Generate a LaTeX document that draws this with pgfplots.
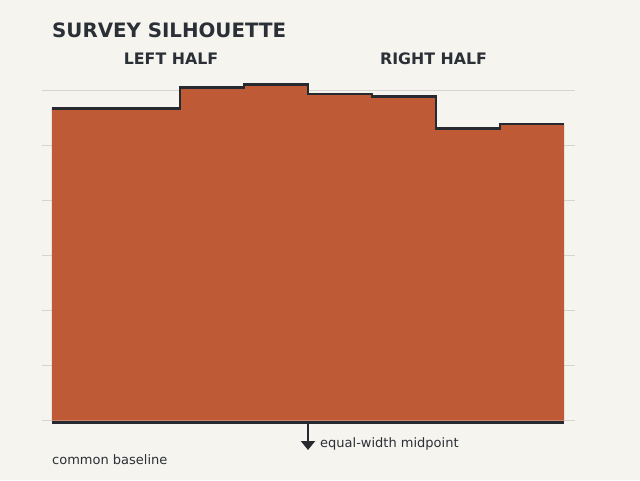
\documentclass[border=0pt]{standalone}
\usepackage{pgfplots}
\pgfplotsset{compat=1.18}
\usepackage{fontspec}
\setmainfont{DejaVu Sans}
\usetikzlibrary{arrows.meta}
\definecolor{bg}{HTML}{F5F4EF}
\definecolor{rust}{HTML}{BF5A36}
\definecolor{ink}{HTML}{262A30}
\definecolor{gridc}{HTML}{D6D4CE}
\definecolor{txt}{HTML}{2B2F36}

\begin{document}
\begin{tikzpicture}[x=1pt,y=1pt]
\fill[bg] (0,0) rectangle (640,480);
\path[use as bounding box] (0,0) rectangle (640,480);
\begin{axis}[
    at={(42pt,59.5pt)}, anchor=south west,
    scale only axis,
    width=533pt, height=341.2pt,
    xmin=-0.15625, xmax=8.171875,
    ymin=0, ymax=124,
    axis line style={draw=none},
    xtick=\empty,
    ytick={0,20,...,120},
    yticklabels={},
    major tick length=0pt,
    ymajorgrids,
    grid style={gridc, line width=1pt},
    clip=false,
]
% survey values, one per equal-width bin (last point closes the final step)
\addplot[const plot, fill=rust, draw=none] coordinates {
    (0,113.4) (1,113.4) (2,121.0) (3,122.1) (4,118.6) (5,117.7) (6,106.1) (7,107.7) (8,107.7)
} \closedcycle;
\addplot[const plot, draw=ink, line width=2.4pt] coordinates {
    (0,113.4) (1,113.4) (2,121.0) (3,122.1) (4,118.6) (5,117.7) (6,106.1) (7,107.7) (8,107.7)
};
% baseline
\addplot[draw=ink, line width=2.7pt] coordinates {(0,-0.6) (8,-0.6)};
\end{axis}
% midpoint marker below the baseline (x = 4 of 8 bins)
\draw[ink, line width=2pt, -{Triangle[width=14pt,length=9pt]}] (308,57) -- (308,30);
\node[anchor=west, text=txt, font=\bfseries\fontsize{19.8}{23}\selectfont, inner sep=0pt] at (52,450) {SURVEY SILHOUETTE};
\node[text=txt, font=\bfseries\fontsize{15.8}{18}\selectfont, inner sep=0pt] at (171,421) {LEFT HALF};
\node[text=txt, font=\bfseries\fontsize{15.8}{18}\selectfont, inner sep=0pt] at (433.5,421) {RIGHT HALF};
\node[anchor=west, text=txt, font=\fontsize{13}{15}\selectfont, inner sep=0pt] at (320,36.5) {equal-width midpoint};
\node[anchor=west, text=txt, font=\fontsize{13}{15}\selectfont, inner sep=0pt] at (52,20) {common baseline};
\end{tikzpicture}
\end{document}
